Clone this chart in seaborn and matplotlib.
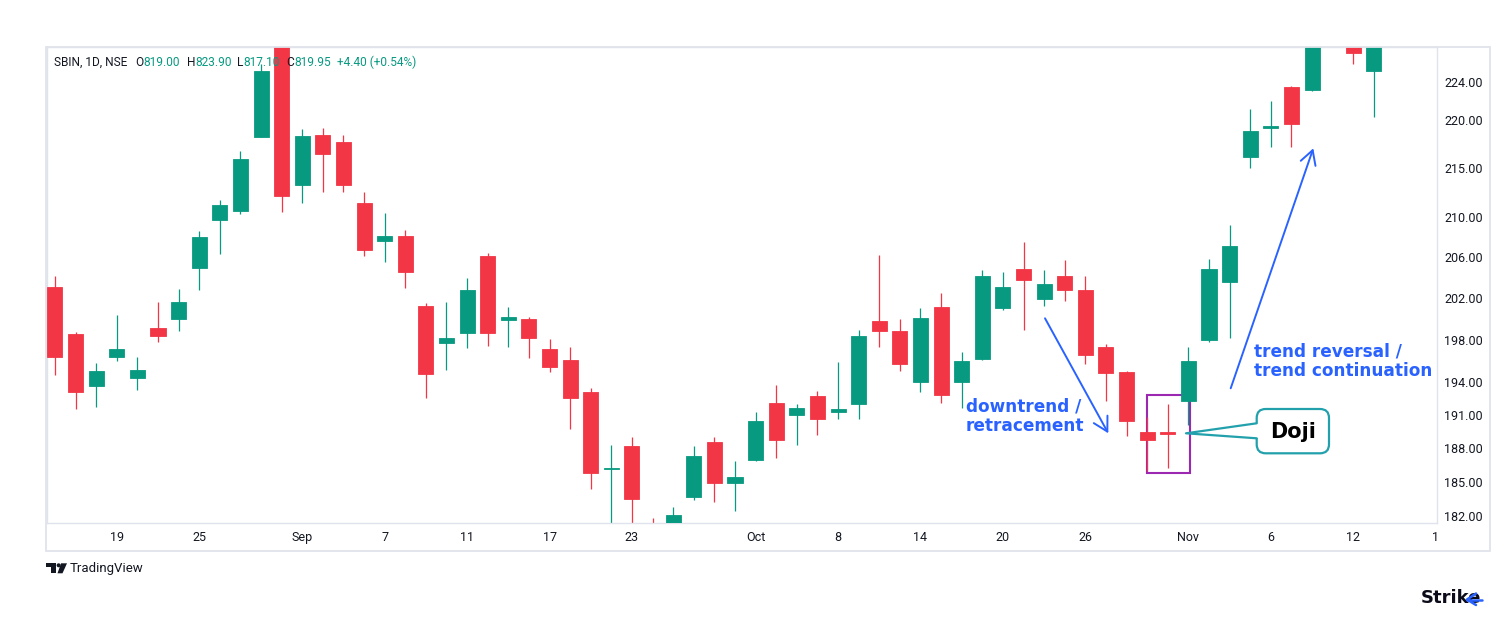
import numpy as np
import pandas as pd
import matplotlib
matplotlib.use("Agg")
import matplotlib.pyplot as plt
import seaborn as sns
from matplotlib.patches import Rectangle, FancyBboxPatch, Polygon
from matplotlib.lines import Line2D
from matplotlib.ticker import FixedLocator, FixedFormatter, NullLocator

# ---------------- data ----------------
opens = [203.1, 198.5, 193.7, 196.4, 194.4, 199.1, 200.0, 204.9, 209.7, 210.6,
         218.2, 229.0, 213.2, 218.4, 217.7, 211.4, 207.6, 208.1, 201.2, 197.7,
         198.6, 206.1, 199.9, 200.0, 197.1, 196.1, 193.1, 186.1, 188.2, 181.0,
         180.0, 183.6, 188.5, 184.9, 186.9, 192.1, 191.0, 192.7, 191.3, 192.0,
         199.8, 198.8, 194.0, 201.1, 194.0, 196.2, 201.0, 204.8, 201.9, 204.1,
         202.8, 197.3, 195.0, 189.4, 189.4, 192.3, 198.0, 203.6, 216.1, 219.1,
         223.5, 223.2, 231.0, 228.6, 225.2]
highs = [204.1, 198.7, 195.8, 200.4, 196.4, 201.6, 202.9, 208.6, 211.7, 216.7,
         226.0, 231.0, 219.0, 219.1, 218.4, 212.5, 210.4, 208.7, 201.5, 201.6,
         203.9, 206.4, 201.1, 200.2, 198.1, 197.3, 193.5, 188.3, 189.0, 181.8,
         182.8, 188.2, 189.0, 186.8, 191.3, 193.8, 192.0, 193.2, 195.9, 198.9,
         206.2, 200.0, 201.0, 202.5, 196.8, 204.7, 204.5, 207.5, 204.7, 205.7,
         204.1, 197.6, 195.1, 190.8, 192.0, 197.3, 205.8, 209.2, 221.1, 222.0,
         223.6, 230.0, 234.0, 229.2, 230.0]
lows = [194.7, 191.5, 191.7, 196.0, 193.3, 197.8, 198.8, 202.8, 206.3, 210.3,
        218.2, 210.5, 211.4, 212.5, 212.5, 206.1, 205.5, 203.0, 192.6, 195.2,
        197.2, 197.4, 197.3, 196.3, 195.0, 189.7, 184.3, 180.5, 180.8, 178.5,
        179.0, 183.4, 183.2, 182.4, 186.8, 187.1, 188.3, 189.2, 190.6, 190.6,
        197.3, 195.1, 193.1, 192.1, 191.6, 196.1, 200.8, 198.9, 201.2, 201.7,
        195.7, 192.3, 189.1, 185.9, 186.2, 190.1, 197.8, 198.2, 215.0, 217.2,
        217.2, 223.1, 228.5, 226.0, 220.3]
closes = [196.4, 193.1, 195.1, 197.1, 195.2, 198.4, 201.6, 208.0, 211.2, 215.9,
          225.2, 212.1, 218.3, 216.4, 213.2, 206.7, 208.1, 204.5, 194.8, 198.2,
          202.8, 198.6, 200.2, 198.2, 195.4, 192.6, 185.8, 186.2, 183.5, 179.5,
          182.1, 187.3, 184.9, 185.4, 190.4, 188.7, 191.6, 190.6, 191.5, 198.4,
          198.8, 195.7, 200.1, 192.8, 196.0, 204.1, 203.1, 203.7, 203.4, 202.8,
          196.6, 194.9, 190.4, 188.7, 189.3, 196.0, 204.8, 207.1, 218.8, 219.3,
          219.6, 229.0, 233.0, 227.1, 229.0]

xtick_pos = [3, 7, 12, 16, 20, 24, 28, 34, 38, 42, 46, 50, 55, 59, 63, 67]
xtick_labels = ["19", "25", "Sep", "7", "11", "17", "23", "Oct", "8", "14",
                "20", "26", "Nov", "6", "12", "1"]
ytick_vals = [182, 185, 188, 191, 194, 198, 202, 206, 210, 215, 220, 224]

header_title = "SBIN, 1D, NSE"
header_letters = ["O", "H", "L", "C"]
header_values = ["819.00", "823.90", "817.10", "819.95"]
header_change = "+4.40 (+0.54%)"

# ---------------- styling ----------------
sns.set_theme(style="white")
plt.rcParams["font.family"] = ["Roboto", "DejaVu Sans"]

GREEN = "#089981"
RED = "#F23645"
DARK = "#131722"
BLUE = "#2962FF"
GRID = "#E0E3EB"

W, H = 1500, 620
fig = plt.figure(figsize=(W / 100, H / 100), dpi=100)
fig.patch.set_facecolor("white")

def fx(x):
    return x / W

def fy(y):
    return 1 - y / H

ax = fig.add_axes([fx(46.5), fy(523.3), (1436.5 - 46.5) / W, (523.3 - 47) / H])
ax.set_facecolor("white")

df = pd.DataFrame({"open": opens, "high": highs, "low": lows, "close": closes})
df["idx"] = np.arange(len(df))
df["up"] = df["close"] >= df["open"]
df["color"] = np.where(df["up"], GREEN, RED)
df["bottom"] = df[["open", "close"]].min(axis=1)
df["height"] = (df["close"] - df["open"]).abs()

ax.set_yscale("log")
ax.vlines(df["idx"], df["low"], df["high"], colors=df["color"], linewidth=0.9, zorder=2)
ax.bar(df["idx"], df["height"], bottom=df["bottom"], width=0.73,
       color=df["color"], edgecolor=df["color"], linewidth=0.6, zorder=3)

ax.set_xlim(-0.41, 67.04)
ax.set_ylim(181.34, 227.8)

ax.yaxis.tick_right()
ax.yaxis.set_major_locator(FixedLocator(ytick_vals))
ax.yaxis.set_major_formatter(FixedFormatter([f"{v:.2f}" for v in ytick_vals]))
ax.yaxis.set_minor_locator(NullLocator())
ax.set_xticks(xtick_pos)
ax.set_xticklabels(xtick_labels)
ax.tick_params(axis="both", length=0, labelsize=9, labelcolor=DARK)
ax.tick_params(axis="y", pad=5.5)
ax.tick_params(axis="x", pad=5.5)
ax.grid(False)
for side in ["left", "top", "right", "bottom"]:
    ax.spines[side].set_color(GRID)
    ax.spines[side].set_linewidth(1.0)
ax.set_xlabel("")
ax.set_ylabel("")

# outer frame of the chart panel
fig.patches.append(Rectangle((fx(46), fy(551)), (1490 - 46) / W, (551 - 47) / H,
                             transform=fig.transFigure, fill=False,
                             edgecolor=GRID, linewidth=1.3, zorder=0))

# header line: group starts, values follow letters
renderer = fig.canvas.get_renderer()
hy = fy(62.3)
hfont = dict(fontsize=8.6, ha="left", va="center", zorder=10)
fig.text(fx(54), hy, header_title, color=DARK, **hfont)
for gx, letter, val in zip([135, 186.7, 236.7, 286], header_letters, header_values):
    t = fig.text(fx(gx), hy, letter, color=DARK, **hfont)
    wpx = t.get_window_extent(renderer).width
    fig.text(fx(gx + wpx + 0.5), hy, val, color=GREEN, **hfont)
fig.text(fx(336.7), hy, header_change, color=GREEN, **hfont)

# purple doji rectangle (behind candles)
ax.add_patch(Rectangle((fx(1147.3), fy(472.7)), (1190 - 1147.3) / W, (472.7 - 395) / H,
                       transform=fig.transFigure, fill=False, edgecolor="#9C27B0",
                       linewidth=1.5, zorder=1, clip_on=False))

# arrows
arrow_kw = dict(arrowstyle="->,head_length=0.5,head_width=0.28", color=BLUE,
                lw=1.4, shrinkA=0, shrinkB=0, mutation_scale=20)
fig.add_artist(matplotlib.patches.FancyArrowPatch(
    (fx(1045), fy(318.3)), (fx(1108.3), fy(433.3)), transform=fig.transFigure, **arrow_kw))
fig.add_artist(matplotlib.patches.FancyArrowPatch(
    (fx(1230.7), fy(388.3)), (fx(1313.3), fy(148.3)), transform=fig.transFigure, **arrow_kw))

ann_font = dict(family="DejaVu Sans", fontweight="bold", fontsize=12.2, color=BLUE)
fig.text(fx(965.5), fy(416.5), "downtrend /\nretracement", ha="left", va="center",
         linespacing=1.1, **ann_font)
fig.text(fx(1254.5), fy(361.5), "trend reversal /\ntrend continuation", ha="left",
         va="center", linespacing=1.1, **ann_font)

# Doji callout
TEAL = "#22A1AD"
box = FancyBboxPatch((fx(1256.7), fy(453.3)), (1329 - 1256.7) / W, (453.3 - 409) / H,
                     boxstyle="round,pad=0,rounding_size=0.006", transform=fig.transFigure,
                     facecolor="white", edgecolor=TEAL, linewidth=1.6, zorder=5,
                     mutation_aspect=W / H)
fig.add_artist(box)
tip = (fx(1186), fy(433.3))
p1 = (fx(1256.7), fy(423.3))
p2 = (fx(1256.7), fy(438.3))
fig.add_artist(Polygon([p1, tip, (fx(1258.5), fy(438.3)), (fx(1258.5), fy(423.3))],
                       closed=True, transform=fig.transFigure, facecolor="white",
                       edgecolor="none", zorder=6))
fig.add_artist(Line2D([p1[0], tip[0], p2[0]], [p1[1], tip[1], p2[1]],
                      transform=fig.transFigure, color=TEAL, linewidth=1.6, zorder=7))
fig.text(fx(1292.8), fy(431.5), "Doji", ha="center", va="center", family="DejaVu Sans",
         fontweight="bold", fontsize=15, color="black", zorder=8)

# TradingView footer logo
fig.add_artist(Polygon([(fx(45.7), fy(563.3)), (fx(56), fy(563.3)), (fx(56), fy(573.3)),
                        (fx(51), fy(573.3)), (fx(51), fy(567)), (fx(45.7), fy(567))],
                       closed=True, transform=fig.transFigure, facecolor=DARK,
                       edgecolor="none"))
fig.add_artist(matplotlib.patches.Ellipse((fx(58.6), fy(565.3)), 4 / W, 4 / H,
                                          transform=fig.transFigure, facecolor=DARK,
                                          edgecolor="none"))
fig.add_artist(Polygon([(fx(61), fy(563.3)), (fx(67), fy(563.3)), (fx(62.5), fy(573.3)),
                        (fx(57.5), fy(573.3))], closed=True, transform=fig.transFigure,
                       facecolor=DARK, edgecolor="none"))
fig.text(fx(70), fy(568.5), "TradingView", ha="left", va="center", fontsize=9.5,
         color=DARK)

# Strike logo
fig.text(fx(1421), fy(598), "Strike", ha="left", va="center", family="DejaVu Sans",
         fontweight="bold", fontsize=13, color="#0B0B1A")
fig.add_artist(Line2D([fx(1476), fx(1467), fx(1476)], [fy(593.5), fy(599.5), fy(605)],
                      transform=fig.transFigure, color=BLUE, linewidth=1.8, zorder=9))
fig.add_artist(Line2D([fx(1467), fx(1482)], [fy(599.5), fy(599.5)],
                      transform=fig.transFigure, color=BLUE, linewidth=1.8, zorder=9))

fig.savefig("out.png", dpi=100, facecolor="white")
